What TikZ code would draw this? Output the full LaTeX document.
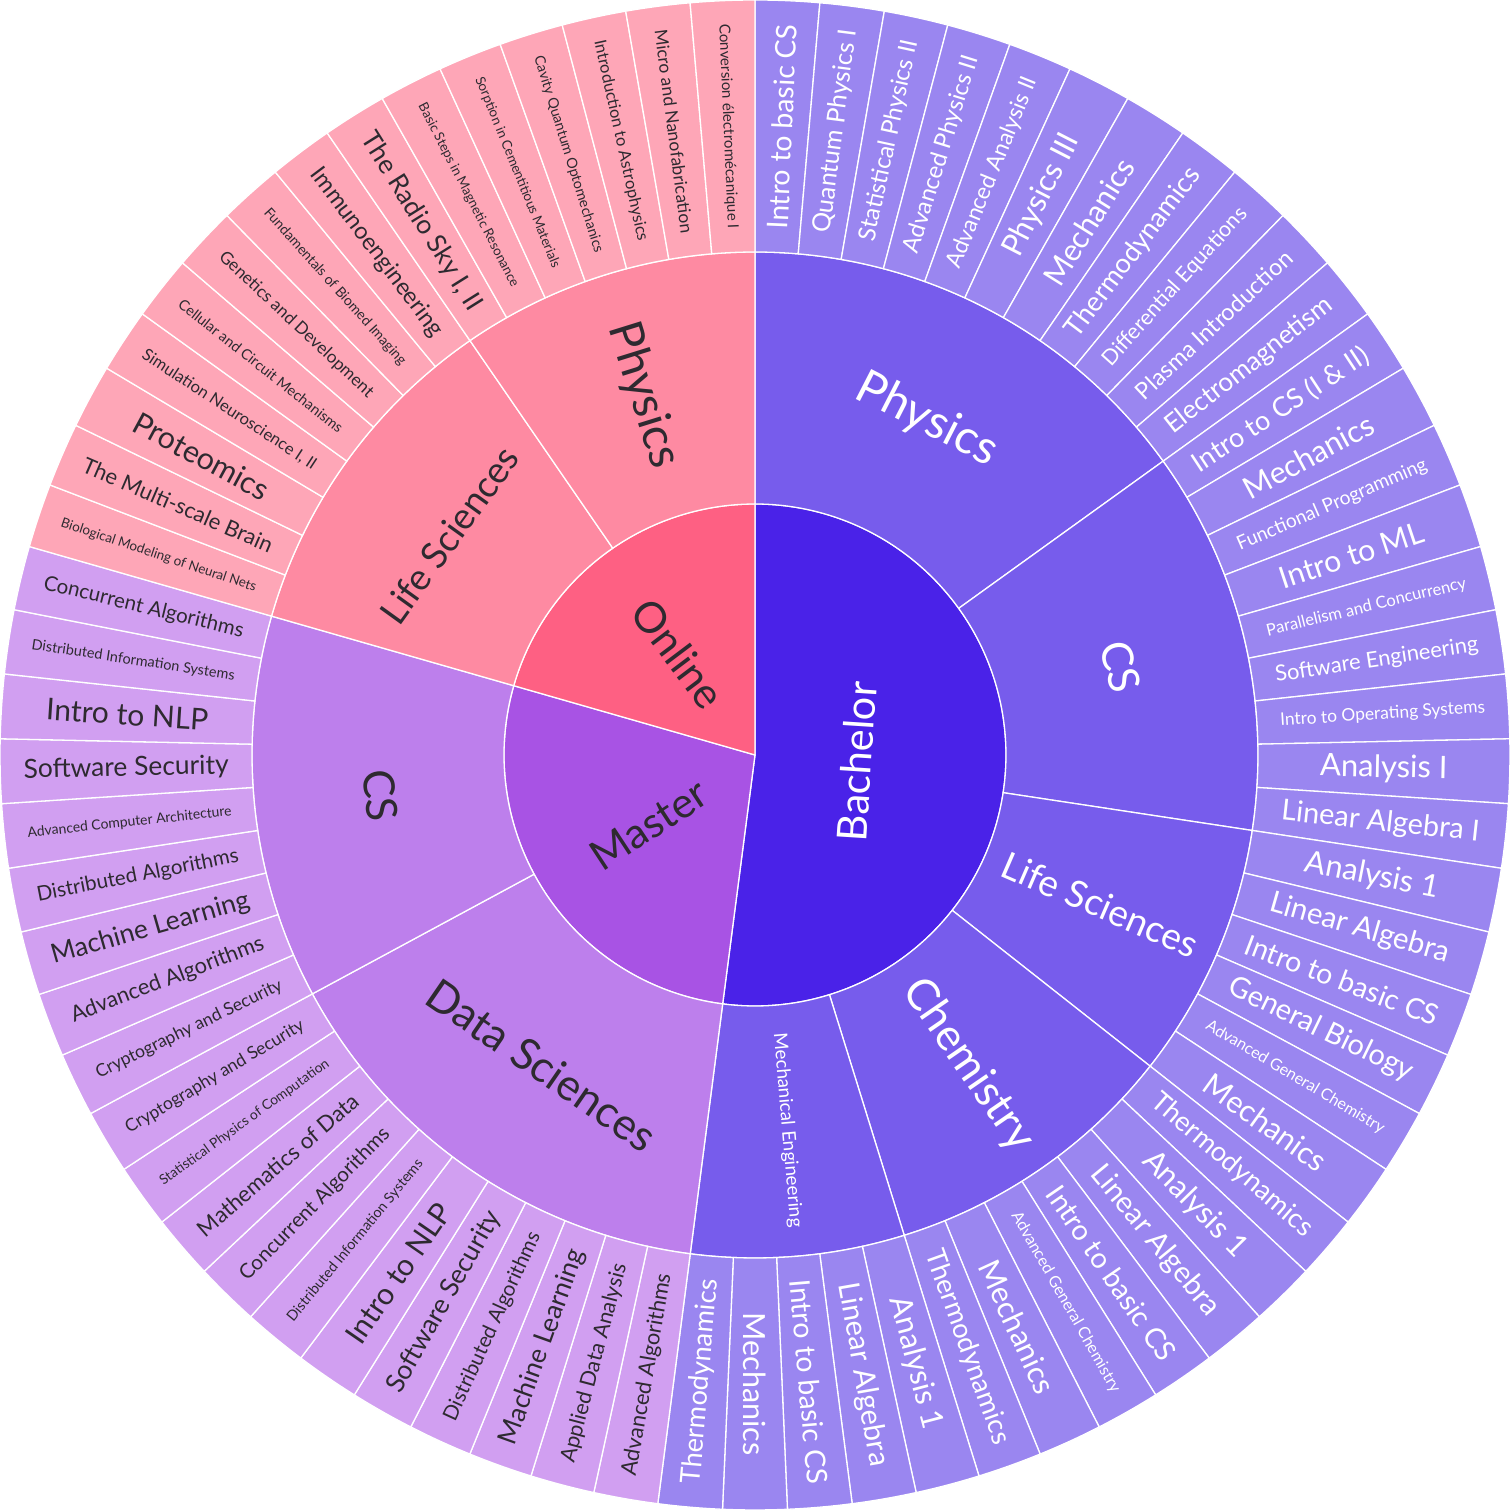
\documentclass[tikz,border=0pt]{standalone}
\usepackage{fontspec}
\setmainfont{Lato}
\usepackage{graphicx}
\definecolor{Bin}{HTML}{4A22E8}
\definecolor{Bmid}{HTML}{775CEC}
\definecolor{Bout}{HTML}{9A86F0}
\definecolor{Min}{HTML}{A853E4}
\definecolor{Mmid}{HTML}{BD7FEC}
\definecolor{Mout}{HTML}{D19FF1}
\definecolor{Oin}{HTML}{FE6083}
\definecolor{Omid}{HTML}{FE8AA2}
\definecolor{Oout}{HTML}{FEA6B7}
\definecolor{darktxt}{HTML}{2E2A30}

\newcommand\dA{4.931506849}
\newsavebox\lblbox
\newlength\lblw

% annular sector between leaf indices #1 and #2, radii #3..#4, colour #5
\newcommand\ringsector[5]{%
  \pgfmathsetmacro\phiA{90-(#1)*\dA}%
  \pgfmathsetmacro\phiB{90-(#2)*\dA}%
  \filldraw[sect, fill=#5] (\phiA:#3pt) arc[start angle=\phiA, end angle=\phiB, radius=#3pt]
     -- (\phiB:#4pt) arc[start angle=\phiB, end angle=\phiA, radius=#4pt] -- cycle;
}
% pie slice of the centre
\newcommand\pieslice[4]{%
  \pgfmathsetmacro\phiA{90-(#1)*\dA}%
  \pgfmathsetmacro\phiB{90-(#2)*\dA}%
  \filldraw[sect, fill=#4] (0pt,0pt) -- (\phiA:#3pt) arc[start angle=\phiA, end angle=\phiB, radius=#3pt] -- cycle;
}
% text fitted into an outer leaf (typeset inside the node, where fonts are active)
\newcommand\fittext[1]{%
  \sbox\lblbox{\fontsize{20}{24}\selectfont #1}%
  \setlength\lblw{\wd\lblbox}%
  \pgfmathsetmacro\wem{max(\lblw/20,0.5)}%
  \pgfmathsetmacro\fs{min(205/\wem,53.5/(1.55+0.043*\wem))}%
  \fontsize{\fs}{\fs}\selectfont #1%
}
% outer leaf label: #1 index, #2 text colour, #3 text
\newcommand\leaflabel[3]{%
  \pgfmathsetmacro\phiM{90-(#1+0.5)*\dA}%
  \pgfmathsetmacro\rot{mod(\phiM+810,180)-90}%
  \node[lbl, text=#2, rotate=\rot] (leaf#1) at (\phiM:629pt) {\fittext{#3}};
}
% inner / middle label: #1 name, #2 mid index, #3 radius, #4 extra rotation (0 radial, -90 tangential), #5 length, #6 colour, #7 text
\newcommand\ringlabel[7]{%
  \pgfmathsetmacro\phiM{90-(#2)*\dA}%
  \pgfmathsetmacro\rot{mod(\phiM+#4+810,180)-90}%
  \node[lbl, text=#6, rotate=\rot] (#1) at (\phiM:#3pt) {\resizebox{#5pt}{!}{\fontsize{40}{40}\selectfont #7}};
}

\begin{document}
\begin{tikzpicture}[
  sect/.style={draw=white, line width=1.3pt, line join=round},
  lbl/.style={inner sep=0pt, outer sep=0pt, anchor=center}]
\fill[white] (-755pt,-755pt) rectangle (755pt,755pt);
\useasboundingbox (-755pt,-755pt) rectangle (755pt,755pt);

% centre
\pieslice{0}{38}{251}{Bin}
\pieslice{38}{58}{251}{Min}
\pieslice{58}{73}{251}{Oin}

% middle ring
\ringsector{0}{11}{251}{503}{Bmid}
\ringsector{11}{20}{251}{503}{Bmid}
\ringsector{20}{26}{251}{503}{Bmid}
\ringsector{26}{33}{251}{503}{Bmid}
\ringsector{33}{38}{251}{503}{Bmid}
\ringsector{38}{49}{251}{503}{Mmid}
\ringsector{49}{58}{251}{503}{Mmid}
\ringsector{58}{66}{251}{503}{Omid}
\ringsector{66}{73}{251}{503}{Omid}

% outer ring
\foreach \k in {0,...,37} {\ringsector{\k}{\k+1}{503}{755}{Bout}}
\foreach \k in {38,...,57} {\ringsector{\k}{\k+1}{503}{755}{Mout}}
\foreach \k in {58,...,72} {\ringsector{\k}{\k+1}{503}{755}{Oout}}

% centre labels
\ringlabel{bach}{19}{102}{-90}{160}{white}{Bachelor}
\ringlabel{mast}{48}{127}{0}{130}{darktxt}{Master}
\ringlabel{onl}{65.5}{127}{0}{124}{darktxt}{Online}

% middle labels
\ringlabel{bphys}{5.5}{376.5}{-90}{152}{white}{Physics}
\ringlabel{bcs}{15.5}{376.5}{-90}{52}{white}{CS}
\ringlabel{blife}{23}{376.5}{0}{210}{white}{Life Sciences}
\ringlabel{bchem}{29.5}{376.5}{0}{198}{white}{Chemistry}
\ringlabel{bmech}{35.5}{376.5}{0}{195}{white}{Mechanical Engineering}
\ringlabel{mdata}{43.5}{376.5}{-90}{268}{darktxt}{Data Sciences}
\ringlabel{mcs}{53.5}{376.5}{-90}{52}{darktxt}{CS}
\ringlabel{olife}{62}{376.5}{-90}{208}{darktxt}{Life Sciences}
\ringlabel{ophys}{69.5}{376.5}{0}{150}{darktxt}{Physics}

% outer labels: Bachelor
\leaflabel{0}{white}{Intro to basic CS}
\leaflabel{1}{white}{Quantum Physics I}
\leaflabel{2}{white}{Statistical Physics II}
\leaflabel{3}{white}{Advanced Physics II}
\leaflabel{4}{white}{Advanced Analysis II}
\leaflabel{5}{white}{Physics III}
\leaflabel{6}{white}{Mechanics}
\leaflabel{7}{white}{Thermodynamics}
\leaflabel{8}{white}{Differential Equations}
\leaflabel{9}{white}{Plasma Introduction}
\leaflabel{10}{white}{Electromagnetism}
\leaflabel{11}{white}{Intro to CS (I \& II)}
\leaflabel{12}{white}{Mechanics}
\leaflabel{13}{white}{Functional Programming}
\leaflabel{14}{white}{Intro to ML}
\leaflabel{15}{white}{Parallelism and Concurrency}
\leaflabel{16}{white}{Software Engineering}
\leaflabel{17}{white}{Intro to Operating Systems}
\leaflabel{18}{white}{Analysis I}
\leaflabel{19}{white}{Linear Algebra I}
\leaflabel{20}{white}{Analysis 1}
\leaflabel{21}{white}{Linear Algebra}
\leaflabel{22}{white}{Intro to basic CS}
\leaflabel{23}{white}{General Biology}
\leaflabel{24}{white}{Advanced General Chemistry}
\leaflabel{25}{white}{Mechanics}
\leaflabel{26}{white}{Thermodynamics}
\leaflabel{27}{white}{Analysis 1}
\leaflabel{28}{white}{Linear Algebra}
\leaflabel{29}{white}{Intro to basic CS}
\leaflabel{30}{white}{Advanced General Chemistry}
\leaflabel{31}{white}{Mechanics}
\leaflabel{32}{white}{Thermodynamics}
\leaflabel{33}{white}{Analysis 1}
\leaflabel{34}{white}{Linear Algebra}
\leaflabel{35}{white}{Intro to basic CS}
\leaflabel{36}{white}{Mechanics}
\leaflabel{37}{white}{Thermodynamics}
% Master
\leaflabel{38}{darktxt}{Advanced Algorithms}
\leaflabel{39}{darktxt}{Applied Data Analysis}
\leaflabel{40}{darktxt}{Machine Learning}
\leaflabel{41}{darktxt}{Distributed Algorithms}
\leaflabel{42}{darktxt}{Software Security}
\leaflabel{43}{darktxt}{Intro to NLP}
\leaflabel{44}{darktxt}{Distributed Information Systems}
\leaflabel{45}{darktxt}{Concurrent Algorithms}
\leaflabel{46}{darktxt}{Mathematics of Data}
\leaflabel{47}{darktxt}{Statistical Physics of Computation}
\leaflabel{48}{darktxt}{Cryptography and Security}
\leaflabel{49}{darktxt}{Cryptography and Security}
\leaflabel{50}{darktxt}{Advanced Algorithms}
\leaflabel{51}{darktxt}{Machine Learning}
\leaflabel{52}{darktxt}{Distributed Algorithms}
\leaflabel{53}{darktxt}{Advanced Computer Architecture}
\leaflabel{54}{darktxt}{Software Security}
\leaflabel{55}{darktxt}{Intro to NLP}
\leaflabel{56}{darktxt}{Distributed Information Systems}
\leaflabel{57}{darktxt}{Concurrent Algorithms}
% Online
\leaflabel{58}{darktxt}{Biological Modeling of Neural Nets}
\leaflabel{59}{darktxt}{The Multi-scale Brain}
\leaflabel{60}{darktxt}{Proteomics}
\leaflabel{61}{darktxt}{Simulation Neuroscience I, II}
\leaflabel{62}{darktxt}{Cellular and Circuit Mechanisms}
\leaflabel{63}{darktxt}{Genetics and Development}
\leaflabel{64}{darktxt}{Fundamentals of Biomed Imaging}
\leaflabel{65}{darktxt}{Immunoengineering}
\leaflabel{66}{darktxt}{The Radio Sky I, II}
\leaflabel{67}{darktxt}{Basic Steps in Magnetic Resonance}
\leaflabel{68}{darktxt}{Sorption in Cementitious Materials}
\leaflabel{69}{darktxt}{Cavity Quantum Optomechanics}
\leaflabel{70}{darktxt}{Introduction to Astrophysics}
\leaflabel{71}{darktxt}{Micro and Nanofabrication}
\leaflabel{72}{darktxt}{Conversion électromécanique I}
\end{tikzpicture}
\end{document}
